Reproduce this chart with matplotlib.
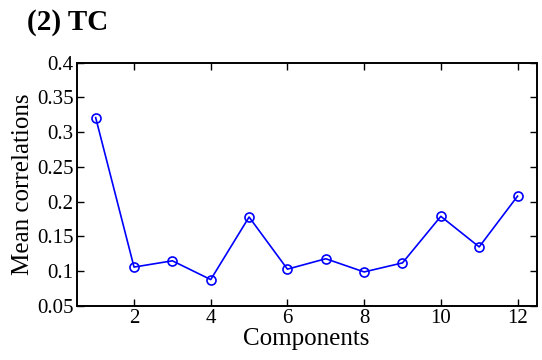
import matplotlib
matplotlib.use("Agg")
import matplotlib.pyplot as plt

# values
components = [1, 2, 3, 4, 5, 6, 7, 8, 9, 10, 11, 12]
mean_corr = [0.321, 0.106, 0.115, 0.088, 0.178, 0.103, 0.118, 0.099, 0.112, 0.179, 0.135, 0.208]
xticks = [2, 4, 6, 8, 10, 12]
yticks = [0.05, 0.1, 0.15, 0.2, 0.25, 0.3, 0.35, 0.4]
ytick_labels = ["0.05", "0.1", "0.15", "0.2", "0.25", "0.3", "0.35", "0.4"]

plt.rcParams['font.family'] = ['Liberation Serif', 'DejaVu Serif']

fig = plt.figure(figsize=(5.42, 3.6), dpi=100)
ax = fig.add_axes([76.5 / 542, 1 - 306 / 360, (536.7 - 76.5) / 542, (306 - 62.7) / 360])

ax.plot(components, mean_corr, color='#0000ff', linewidth=1.2,
        marker='o', markersize=6.5, markerfacecolor='none',
        markeredgecolor='#0000ff', markeredgewidth=1.2)

ax.set_xlim(0.5, 12.5)
ax.set_ylim(0.05, 0.4)
ax.set_xticks(xticks)
ax.set_yticks(yticks)
ax.set_yticklabels(ytick_labels)

ax.tick_params(direction='in', length=5, width=1, top=True, right=True,
               labelsize=15, pad=2)
for s in ax.spines.values():
    s.set_linewidth(1.4)

ax.set_xlabel("Components", fontsize=18, labelpad=0)
ax.set_ylabel("Mean correlations", fontsize=18, labelpad=2)

fig.text(27 / 542, 1 - 23 / 360, "(2) TC", fontsize=21, fontweight='bold',
         ha='left', va='center')

fig.savefig("out.png", dpi=100)
